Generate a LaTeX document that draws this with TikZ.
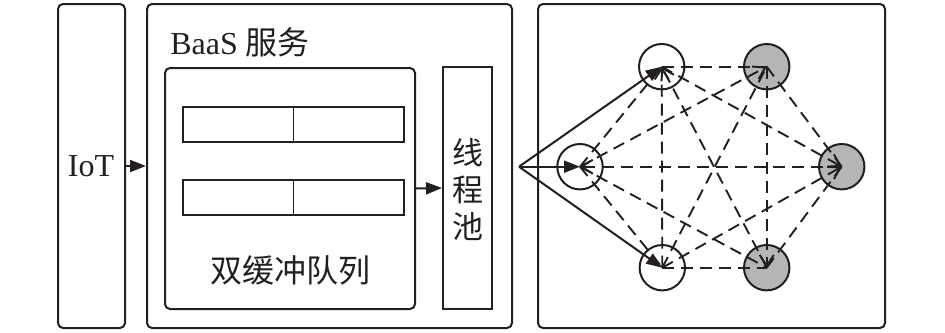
\documentclass[tikz,border=0pt]{standalone}
\usepackage{fontspec}
\setmainfont{Liberation Serif}
\newfontfamily\cjk{Noto Sans CJK SC}
\usetikzlibrary{arrows.meta}
\definecolor{ink}{HTML}{231F20}
\definecolor{shade}{HTML}{B5B5B5}

\begin{document}
\begin{tikzpicture}[
  x = 0.5pt, y = -0.5pt,
  frame/.style = {draw=ink, line width=1pt, rounded corners=2.5pt, inner sep=0pt},
  cell/.style  = {draw=ink, line width=0.9pt, inner sep=0pt,
                  minimum width=55.25pt, minimum height=17.5pt},
  peer/.style  = {circle, draw=ink, line width=1pt, fill=white,
                  minimum size=22.7pt, inner sep=0pt},
  busy/.style  = {peer, fill=shade},
  feed/.style  = {draw=ink, line width=1pt, -{Triangle[length=8pt,width=6pt]}},
  link/.style  = {draw=ink, line width=0.95pt, dash pattern=on 6pt off 3.5pt},
  hop/.style   = {link, -{Straight Barb[length=5.5pt,width=7pt]}},
  font = \fontsize{16}{19}\selectfont,
]

\useasboundingbox (0,0) rectangle (945,332);

% outer frames
\node[frame, minimum width=33.5pt, minimum height=162pt]  (iot)   at (91.5,166) {};
\node[frame, minimum width=182.5pt, minimum height=162pt] (baas)  at (329.5,166) {};
\node[frame, minimum width=173.5pt, minimum height=162pt] (net)   at (711.5,166) {};
\node[frame, minimum width=125pt, minimum height=120.5pt] (queue) at (290,188.5) {};
\node[frame, rounded corners=0pt, minimum width=24.5pt, minimum height=121pt]
  (pool) at (467.5,188) {};

% labels
\node[text=ink] (iotlabel) at (91,166) {IoT};
\node[text=ink, anchor=west, inner sep=0pt] (baaslabel) at (170,42) {BaaS {\cjk 服务}};
\node[text=ink] (queuelabel) at (290,270) {\cjk 双缓冲队列};
\node[text=ink, align=center, font=\cjk\fontsize{15.5}{18.5}\selectfont]
  (poollabel) at (467.5,190) {线\\程\\池};

% double buffer
\foreach \y/\row in {124.5/a, 197.5/b}{%
  \node[cell] (\row1) at (238.25,\y) {};
  \node[cell] (\row2) at (348.75,\y) {};
}

\draw[feed] (iot.east) -- (baas.west);
\draw[feed] (queue.east) -- (pool.west);

% nodes of the network
\coordinate (src) at (519,166.7);
\node[peer] (p1) at (661.7,66.7)  {};
\node[busy] (p2) at (766.7,66.7)  {};
\node[peer] (p3) at (580,166.7)   {};
\node[busy] (p4) at (841.7,166.7) {};
\node[peer] (p5) at (662.3,267.7) {};
\node[busy] (p6) at (766.7,267.7) {};

\foreach \a/\b in {p1/p2, p5/p6, p3/p1, p3/p5, p2/p4, p6/p4, p3/p6, p5/p2}{%
  \draw[link] (\a.center) -- (\b.center);
}
\foreach \a/\b in {p5/p1, p6/p1, p3/p2, p4/p3, p1/p4, p5/p4, p2/p6}{%
  \draw[hop] (\a.center) -- (\b.center);
}

\foreach \b in {p1, p3, p5}{%
  \draw[feed] (src) -- (\b.center);
}

\end{tikzpicture}
\end{document}
